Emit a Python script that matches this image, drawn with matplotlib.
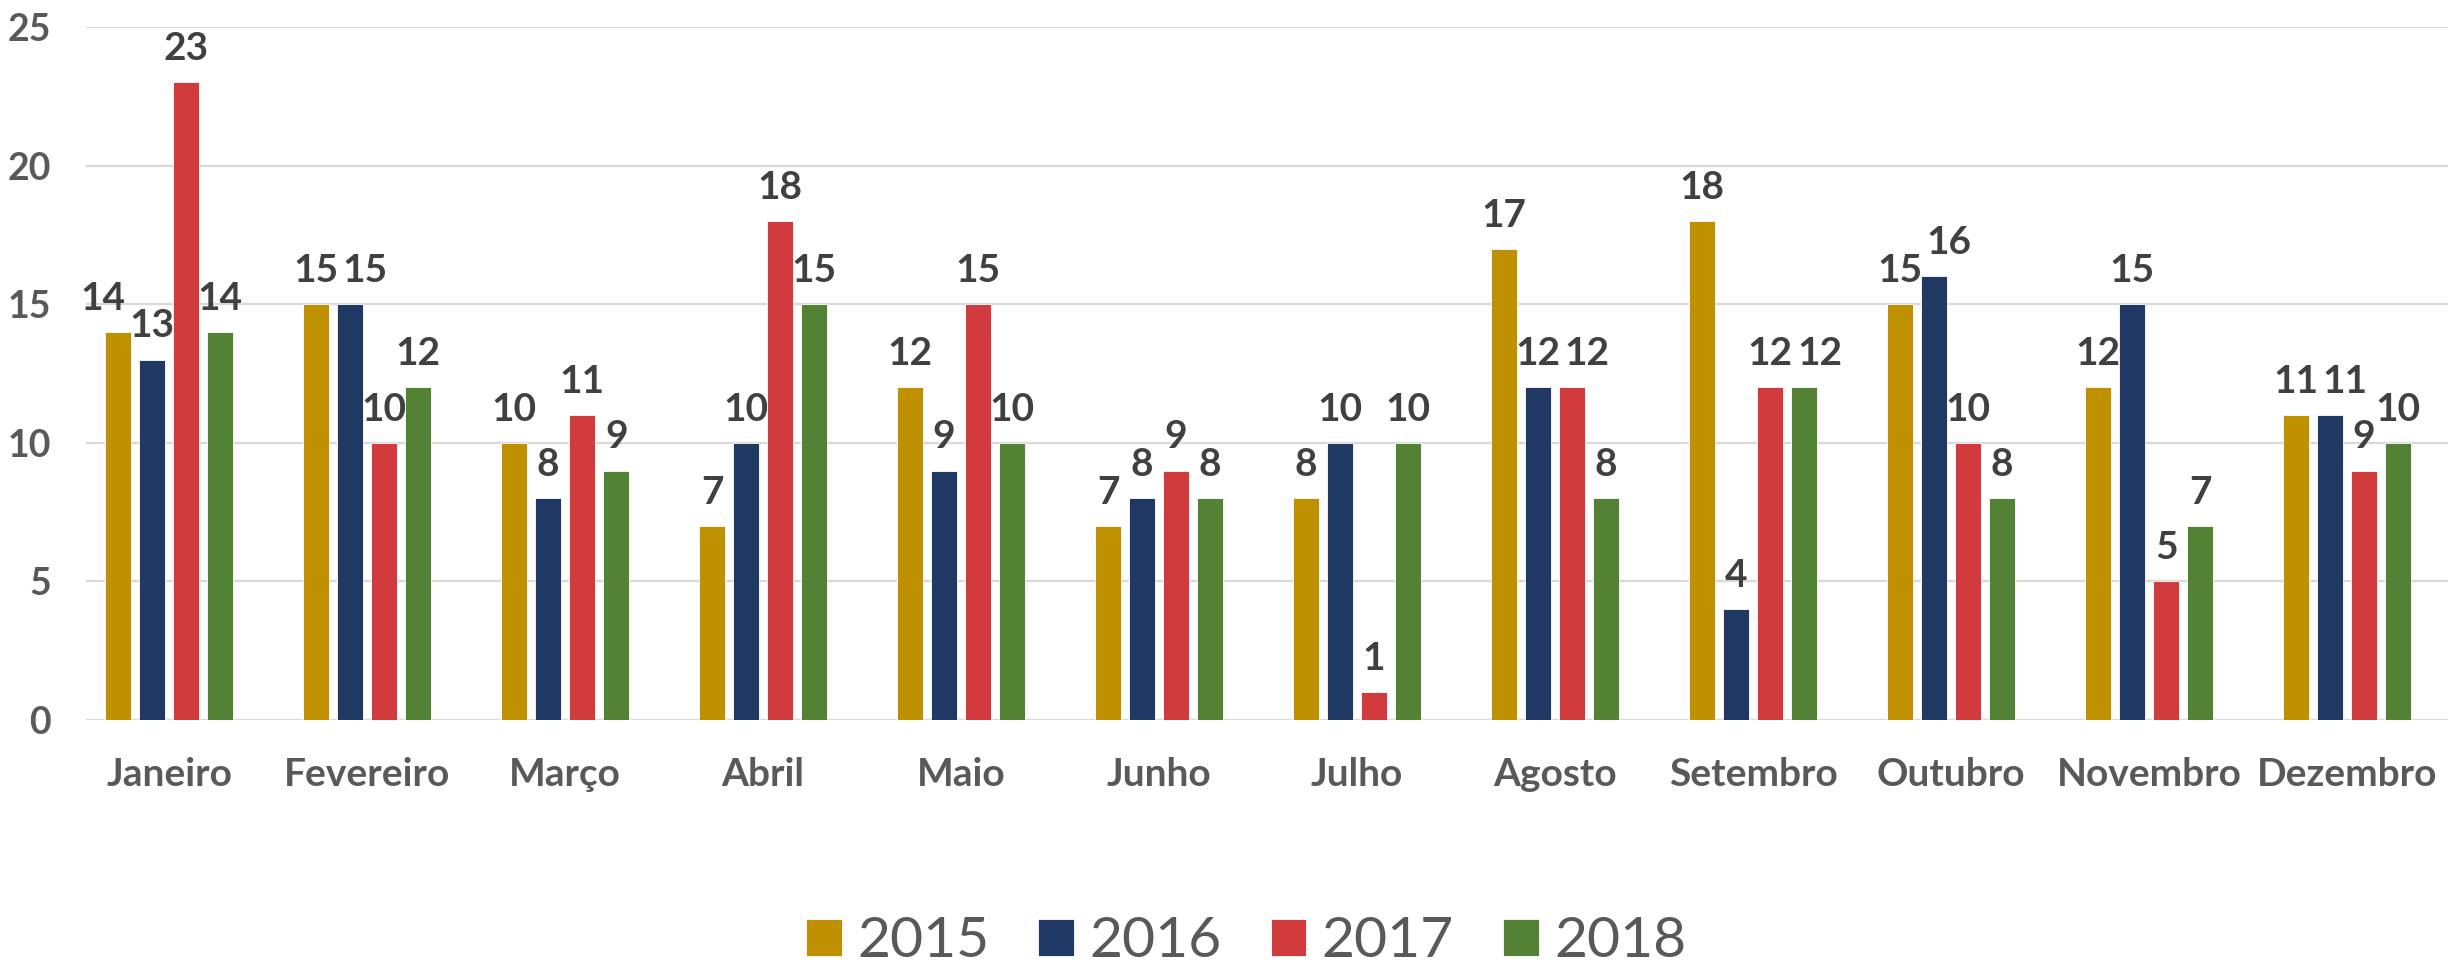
import matplotlib
matplotlib.use("Agg")
import matplotlib.pyplot as plt
import numpy as np

months = ["Janeiro", "Fevereiro", "Março", "Abril", "Maio", "Junho", "Julho",
          "Agosto", "Setembro", "Outubro", "Novembro", "Dezembro"]
years = ["2015", "2016", "2017", "2018"]
v2015 = [14, 15, 10, 7, 12, 7, 8, 17, 18, 15, 12, 11]
v2016 = [13, 15, 8, 10, 9, 8, 10, 12, 4, 16, 15, 11]
v2017 = [23, 10, 11, 18, 15, 9, 1, 12, 12, 10, 5, 9]
v2018 = [14, 12, 9, 15, 10, 8, 10, 8, 12, 8, 7, 10]
colors = ["#BF9000", "#203864", "#D13B3E", "#548235"]

plt.rcParams["font.family"] = ["Lato", "DejaVu Sans"]

fig = plt.figure(figsize=(24.48, 9.64), dpi=100)
ax = fig.add_axes([86 / 2448, 1 - 720 / 964, 1 - 86 / 2448, (720 - 27) / 964])

x = np.arange(len(months))
width = 0.131
step = 0.172
series = [v2015, v2016, v2017, v2018]
n = len(series)

# like Excel: when two neighbouring labels sit at about the same height,
# push one of them sideways (away from a taller bar if there is one)
nudge = np.zeros((n, len(months)))
for j in range(len(months)):
    for i in range(n - 1):
        a, b = series[i][j], series[i + 1][j]
        if abs(a - b) <= 1 and a >= 10 and b >= 10:
            blocked = i + 2 < n and series[i + 2][j] > b
            if blocked:
                nudge[i, j] -= 11
            else:
                nudge[i + 1, j] += 11

for i, (vals, col, yr) in enumerate(zip(series, colors, years)):
    pos = x + (i - 1.5) * step
    ax.bar(pos, vals, width, color=col, label=yr, zorder=3,
           edgecolor="white", linewidth=0.6)
    for j, (xp, v) in enumerate(zip(pos, vals)):
        ax.annotate(str(v), (xp, v), xytext=(nudge[i, j], 16),
                    textcoords="offset points",
                    ha="center", va="baseline", fontsize=28,
                    fontweight="bold", color="#404040")

ax.set_xlim(-0.42, 11.51)
ax.set_ylim(0, 25)
ax.set_yticks([0, 5, 10, 15, 20, 25])
ax.set_xticks(x)
ax.set_xticklabels(months)
ax.yaxis.grid(True, color="#D9D9D9", linewidth=1.6, zorder=0)
ax.set_axisbelow(True)
for s in ax.spines.values():
    s.set_visible(False)
ax.tick_params(axis="both", length=0, colors="#595959")
ax.tick_params(axis="y", pad=25, labelsize=27)
ax.tick_params(axis="x", pad=27, labelsize=28)
for lab in ax.get_xticklabels() + ax.get_yticklabels():
    lab.set_fontweight("bold")

fig.legend(loc="center", bbox_to_anchor=(0.509, 0.023), ncol=4, frameon=False,
           fontsize=41, handlelength=0.63, handleheight=0.63,
           handletextpad=0.27, columnspacing=0.86, borderpad=0,
           labelcolor="#595959")

fig.savefig("out.png", dpi=100)
